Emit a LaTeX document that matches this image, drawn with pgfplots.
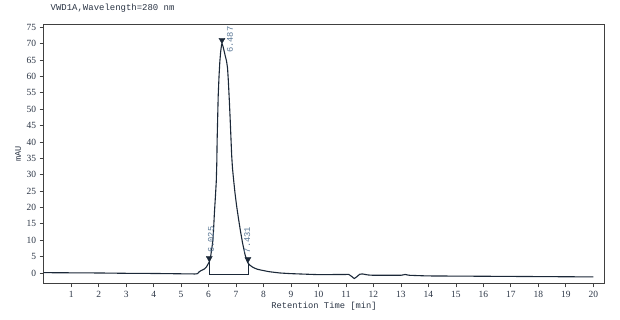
\documentclass[border=0pt]{standalone}
\usepackage{pgfplots}
\pgfplotsset{compat=1.18}
\usepackage{fontspec}
\usetikzlibrary{calc}
\setmainfont{Liberation Serif}
\newfontfamily\monofont{Liberation Mono}
\definecolor{curvec}{HTML}{1B2838}
\definecolor{axisc}{HTML}{404040}
\definecolor{textc}{HTML}{2B3545}
\definecolor{labc}{HTML}{5B7896}
\begin{document}
\begin{tikzpicture}
\begin{axis}[
  scale only axis, width=560.6bp, height=259bp,
  xmin=0, xmax=20.4, ymin=-3.15, ymax=75.9,
  xtick={1,...,20}, ytick={0,5,...,75},
  xtick pos=left, ytick pos=left,
  tick align=outside, major tick length=4bp,
  tick style={color=axisc, line width=0.8bp},
  axis line style={color=axisc, line width=0.9bp},
  ticklabel style={font=\fontsize{9.5}{10}\selectfont, color=textc},
  /pgf/number format/assume math mode=true,
  xlabel={Retention Time [min]},
  xlabel style={at={(axis description cs:0.5,0)}, anchor=center, yshift=-22.7bp, font=\monofont\fontsize{8.8}{10}\selectfont, color=textc},
  ylabel={mAU},
  ylabel style={at={(axis description cs:0,0.5)}, anchor=center, yshift=25.7bp, font=\monofont\fontsize{8.6}{10}\selectfont, color=textc},
  title={VWD1A,Wavelength=280 nm},
  title style={at={(axis description cs:0,1)}, anchor=west, xshift=3.5bp, yshift=10.3bp, font=\monofont\fontsize{9}{10}\selectfont, color=textc},
  clip mode=individual,
]
\addplot[color=curvec, line width=1.1bp, smooth, tension=0.15] coordinates {
(0,0.1) (1,0.05) (2,0) (3,-0.1) (4,-0.15) (5,-0.25) (5.5,-0.3) (5.6,-0.2)
(5.65,0.3) (5.72,0.7) (5.84,1.2) (5.92,1.8) (5.96,2.4) (6.025,3.4) (6.07,4.8)
(6.10,6.5) (6.15,9.5) (6.18,13) (6.21,18) (6.25,23.5) (6.28,28) (6.30,34)
(6.31,40) (6.33,47) (6.35,54) (6.38,60) (6.41,64.5) (6.44,67.5) (6.47,69.5)
(6.487,70) (6.51,69.6) (6.55,68.3) (6.60,66.5) (6.65,64.8) (6.69,62.5)
(6.72,58.5) (6.75,53.5) (6.78,48) (6.81,42) (6.84,36) (6.87,32) (6.91,28.5)
(6.96,24.5) (7.02,20.5) (7.09,16.5) (7.16,12.8) (7.24,9) (7.33,5.5) (7.40,3.7)
(7.431,3.1) (7.5,2.4) (7.6,1.8) (7.75,1.2) (7.9,0.9) (8.2,0.4) (8.6,0)
(9,-0.2) (10,-0.5) (11,-0.45)
(11.1,-0.45) (11.2,-1.0) (11.3,-1.7) (11.4,-1.1) (11.5,-0.4) (11.6,-0.3)
(11.8,-0.6) (12,-0.7) (13,-0.7) (13.15,-0.45) (13.3,-0.7) (14,-0.9)
(16,-1.0) (18,-1.1) (20,-1.2)
};
\addplot[color=curvec, line width=0.8bp] coordinates {(6.025,3.4) (6.025,-0.3) (7.431,-0.3) (7.431,3.1)};
\addplot[only marks, mark=triangle*, mark size=3.5bp, mark options={rotate=180, fill=curvec, draw=curvec}] coordinates {(6.025,4.5) (6.487,71.1) (7.431,4.2)};
\node[rotate=90, anchor=west, inner sep=0pt, font=\monofont\fontsize{8.8}{10}\selectfont, color=labc] at (axis cs:6.78,67.1) {6.487};
\node[rotate=90, anchor=west, inner sep=0pt, font=\monofont\fontsize{8.8}{10}\selectfont, color=labc] at (axis cs:6.09,6.1) {6.025};
\node[rotate=90, anchor=west, inner sep=0pt, font=\monofont\fontsize{8.8}{10}\selectfont, color=labc] at (axis cs:7.41,6.0) {7.431};
\end{axis}
\pgfresetboundingbox
\path ($(current axis.south west)+(-43.7bp,-36.7bp)$) rectangle ($(current axis.north east)+(15.7bp,24.3bp)$);
\end{tikzpicture}
\end{document}
